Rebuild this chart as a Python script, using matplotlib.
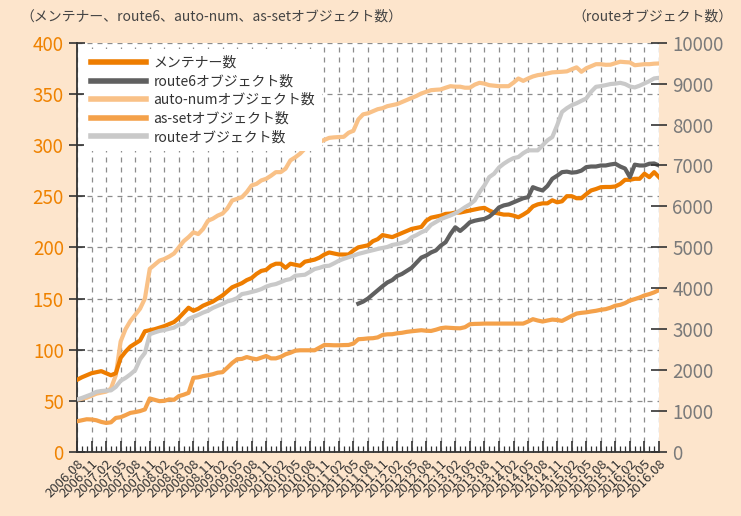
import numpy as np
import matplotlib
matplotlib.use("Agg")
import matplotlib.pyplot as plt

plt.rcParams['font.family'] = ['Noto Sans CJK JP', 'DejaVu Sans']

# month index 0 = 2006.08 ... 120 = 2016.08
tick_labels = ["2006.08", "2006.11", "2007.02", "2007.05", "2007.08", "2007.11",
               "2008.02", "2008.05", "2008.08", "2008.11", "2009.02", "2009.05",
               "2009.08", "2009.11", "2010.02", "2010.05", "2010.08", "2010.11",
               "2011.02", "2011.05", "2011.08", "2011.11", "2012.02", "2012.05",
               "2012.08", "2012.11", "2013.02", "2013.05", "2013.08", "2013.11",
               "2014.02", "2014.05", "2014.08", "2014.11", "2015.02", "2015.05",
               "2015.08", "2015.11", "2016.02", "2016.05", "2016.08"]

maintainer = [70.5, 73, 75, 77, 78, 79, 77, 75, 77, 92,
              98, 103, 106, 109, 118, 119, 120, 121.5, 123, 125,
              127, 131, 136, 141, 138, 140, 143, 145, 147, 150,
              153, 157, 161, 163, 165, 168, 170, 174, 177, 178,
              182, 184, 184, 180, 184, 183, 182, 186, 187, 188,
              190, 193, 195, 194, 193, 193, 193, 197, 200, 201,
              202, 206, 208, 212, 211, 210, 212, 214, 216, 218,
              219, 220, 226, 229, 230, 231, 232.7, 233, 234, 234,
              235, 236, 237, 238, 238.6, 236, 234, 233, 232, 232,
              231, 229.4, 232, 235, 240, 242, 243, 243, 246, 244,
              245, 250, 250, 248, 248, 252, 255.6, 257, 258.8, 259,
              259, 259.5, 262, 266, 266, 267, 267, 272, 268.6, 273.5,
              268.6]

route6 = [np.nan] * 58 + [
              145, 147, 150, 154, 158, 162, 165.7, 168, 172, 174,
              177, 180, 185, 190, 192, 195, 197, 201.7, 205, 213,
              219.6, 216, 220, 224.5, 226, 227, 227.8, 230, 234, 239,
              241, 242, 244, 246, 248, 249, 258.8, 257, 255.6, 260,
              267, 270, 273.5, 274, 273, 273.5, 275, 278.4, 279, 279,
              280, 280, 281, 281.7, 279, 277, 268.6, 280.8, 280, 280,
              281.7, 282, 280]

autonum = [51, 52, 53, 55, 57, 58, 59, 62, 75, 108,
           120, 128, 134, 140, 150, 179, 183, 187, 188.6, 191,
           194, 200, 206, 210, 214.7, 213, 218, 226, 228, 231,
           233, 238, 245.8, 247.4, 249, 254, 260.5, 262, 265.4, 267,
           270, 273.5, 273.5, 276.9, 285, 288, 291.6, 296.5, 298, 300,
           303, 305, 307, 307.5, 307.8, 308, 312, 314, 325, 330,
           331, 333, 335, 336, 338, 339, 340, 342, 344, 346,
           348, 350.4, 352, 353.6, 354, 354.3, 356, 357.5, 357, 357,
           356, 356, 359, 360.8, 360, 358.5, 358, 357.5, 357.5, 357.5,
           361, 365, 362.7, 365, 367, 368.3, 369, 370, 371, 371.3,
           371.6, 372, 374, 375.9, 371.6, 375, 377, 379, 379, 378.4,
           378.5, 380, 381.4, 381, 380.7, 378, 378.5, 379, 379, 379.5,
           379.7]

asset = [30, 31, 32, 31.8, 31, 29.4, 28.4, 29, 33.3, 34,
         36, 38.2, 39, 40, 41.6, 52.3, 51, 49.7, 50, 51.4,
         51, 54.6, 56, 57.8, 72.5, 73, 74.2, 75, 76, 77.5,
         78, 82.4, 87, 90.6, 91, 92.8, 91.5, 90.6, 92.2, 93.8,
         91.5, 91.5, 93, 95.5, 97, 99, 99.4, 99.4, 99.4, 99.4,
         102, 104.6, 104.5, 104.3, 104.3, 104.5, 104.6, 106, 110.2, 110.5,
         111, 111.2, 112, 114.4, 115, 115.1, 116, 116.5, 117.4, 118,
         118.5, 119, 118.5, 118.3, 119.5, 121, 121.6, 121.3, 121, 120.9,
         122, 124.9, 125.2, 125.3, 125.5, 125.5, 125.5, 125.5, 125.5, 125.5,
         125.5, 125.5, 125.5, 127.5, 129.8, 128.5, 127.5, 128.5, 129.4, 129,
         128.1, 130.5, 133, 135.3, 136, 136.5, 137.3, 138, 139, 139.6,
         141, 143, 143.8, 145.5, 148, 149.4, 151, 153, 154.3, 156,
         158.2]

route = [1284, 1320, 1365, 1410, 1470, 1490, 1500, 1505, 1590, 1740,
         1810, 1897, 2000, 2265, 2420, 2877, 2920, 2958, 2980, 3010,
         3039, 3110, 3137, 3250, 3301, 3350, 3407, 3450, 3520, 3571,
         3620, 3680, 3711, 3760, 3858, 3880, 3910, 3940, 3980, 4040,
         4080, 4103, 4150, 4200, 4225, 4306, 4320, 4331, 4400, 4470,
         4500, 4540, 4551, 4610, 4674, 4720, 4760, 4797, 4840, 4870,
         4902, 4930, 4960, 4985, 5010, 5059, 5080, 5110, 5147, 5245,
         5300, 5368, 5420, 5550, 5620, 5690, 5735, 5780, 5833, 5900,
         5980, 6050, 6145, 6350, 6512, 6716, 6800, 6950, 7044, 7120,
         7180, 7206, 7300, 7370, 7370, 7370, 7493, 7615, 7696, 7983,
         8309, 8400, 8473, 8520, 8580, 8637, 8800, 8922, 8940, 8963,
         8990, 9000, 9020, 8990, 8930, 8907, 8950, 9005, 9060, 9127,
         9142]

series_names = ["メンテナー数", "route6オブジェクト数", "auto-numオブジェクト数",
                "as-setオブジェクト数", "routeオブジェクト数"]
colors = ["#EE7D00", "#606060", "#F9C187", "#F4A14A", "#C9C9C9"]

BG = "#FDE5CC"
ORANGE_TXT = "#EF8200"
GRAY_TXT = "#7A7A7A"
DARK = "#333333"

months = np.arange(len(maintainer))

fig = plt.figure(figsize=(7.41, 5.16), dpi=100, facecolor=BG)
ax = fig.add_axes([77/741, 1 - 452/516, (659-77)/741, (452-42.7)/516])
ax.set_facecolor("white")
ax2 = ax.twinx()

lw = 3.0
l1, = ax.plot(months, maintainer, color=colors[0], lw=lw, zorder=3)
l2, = ax.plot(months, route6, color=colors[1], lw=lw, zorder=3)
l3, = ax.plot(months, autonum, color=colors[2], lw=lw, zorder=2)
l4, = ax.plot(months, asset, color=colors[3], lw=lw, zorder=3)
l5, = ax2.plot(months, route, color=colors[4], lw=lw, zorder=2)

ax.set_xlim(0, 120)
ax.set_ylim(0, 400)
ax2.set_ylim(0, 10000)

ax.set_yticks(np.arange(0, 401, 50))
ax2.set_yticks(np.arange(0, 10001, 1000))
ax.set_xticks(np.arange(0, 121, 3))
ax.set_xticks(np.arange(0, 121, 1), minor=True)
ax.set_xticklabels(tick_labels, rotation=45, ha="right", rotation_mode="anchor",
                   fontsize=9.5, color=DARK)

for s in ["top", "right"]:
    ax.spines[s].set_visible(False)
for s in ["top", "right", "left", "bottom"]:
    ax2.spines[s].set_visible(False)
ax.spines["left"].set_color(DARK)
ax.spines["bottom"].set_color(DARK)
ax.spines["left"].set_linewidth(1.3)
ax.spines["bottom"].set_linewidth(1.3)

ax.tick_params(axis="y", direction="inout", length=11, width=1.2, color=DARK,
               labelsize=13.5, labelcolor=ORANGE_TXT, pad=4)
ax2.tick_params(axis="y", direction="inout", length=11, width=1.2, color=DARK,
                labelsize=13.5, labelcolor=GRAY_TXT, pad=4)
ax.tick_params(axis="x", which="major", direction="in", length=8, width=1.2, color=DARK, pad=4)
ax.tick_params(axis="x", which="minor", direction="in", length=4, width=0.9, color=DARK)

ax.grid(True, which="major", axis="both", color="#8C8C8C", linestyle=(0, (4, 4)),
        linewidth=0.9)
ax.set_axisbelow(True)

leg = ax2.legend([l1, l2, l3, l4, l5], series_names, loc="upper left",
                 bbox_to_anchor=(0.012, 0.985), fontsize=10, frameon=True,
                 facecolor="white", edgecolor="none", framealpha=1,
                 handlelength=4.0, handletextpad=0.5, labelspacing=0.33,
                 borderpad=0.5, borderaxespad=0)
for h in leg.get_lines():
    h.set_linewidth(4)
for t in leg.get_texts():
    t.set_color(DARK)

fig.text(20/741, 1 - 17/516, "（メンテナー、route6、auto-num、as-setオブジェクト数）",
         fontsize=10, color="#444444", va="center", ha="left")
fig.text(733/741, 1 - 17/516, "（routeオブジェクト数）",
         fontsize=10, color="#444444", va="center", ha="right")

fig.savefig("out.png", dpi=100, facecolor=BG)
